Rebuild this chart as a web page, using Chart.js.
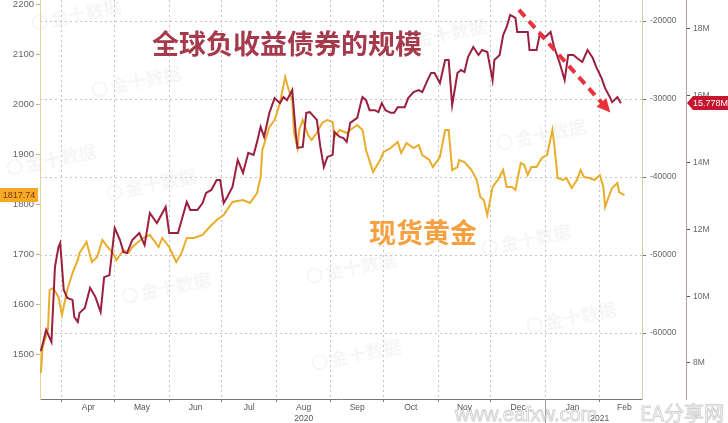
<!DOCTYPE html>
<html>
<head>
<meta charset="utf-8">
<script src="https://cdn.jsdelivr.net/npm/chart.js@4/dist/chart.umd.min.js"></script>
<style>
html, body { margin: 0; padding: 0; background: #fff; }
#wrap { width: 728px; height: 423px; position: relative; }
</style>
</head>
<body>
<div id="wrap"><canvas id="chart"></canvas></div>
<script>
// x values are days counted from 1 Mar 2020 (Apr 1 = 31 ... Feb 1 2021 = 337)
var monthStarts = [31, 61, 92, 122, 153, 184, 214, 245, 275, 306, 337, 365]
var monthNames = ['Apr', 'May', 'Jun', 'Jul', 'Aug', 'Sep', 'Oct', 'Nov', 'Dec', 'Jan', 'Feb']

// spot gold (left axis, USD)
var goldDays = [19,20,23,24,26,29,31,34,37,40,41,45,48,51,54,57,60,62,66,69,
  71,77,81,86,88,92,96,99,102,106,111,115,119,123,128,134,138,142,144,145,
  149,152,155,158,160,162,163,165,166,168,171,173,176,179,182,185,186,189,193,195,
  199,202,204,208,212,214,218,222,224,227,231,234,236,240,242,246,249,251,253,256,
  257,260,264,267,269,271,273,276,279,282,284,287,289,292,294,296,298,301,304,307,
  310,311,313,316,318,321,324,326,328,331,334,337,339,340,342,344,347,348,351]
var goldPrice = [1462,1514,1548,1628,1632,1614,1578,1628,1662,1688,1702,1724,1684,1694,1728,1714,1702,1688,1708,1702,
  1714,1732,1738,1714,1732,1714,1684,1702,1732,1732,1738,1754,1768,1778,1804,1808,1802,1822,1854,1908,
  1954,1968,2002,2054,2028,2008,1944,1912,1948,1968,1938,1928,1942,1962,1968,1964,1934,1948,1942,1948,
  1958,1948,1908,1864,1888,1904,1912,1924,1902,1922,1912,1918,1898,1888,1874,1894,1948,1948,1868,1874,
  1888,1884,1868,1848,1814,1808,1778,1834,1848,1868,1834,1834,1828,1882,1878,1858,1874,1874,1892,1898,
  1948,1922,1852,1848,1852,1832,1848,1868,1854,1852,1848,1858,1834,1794,1814,1832,1842,1824,1817.74]

// global negative-yielding debt (right axis, "M")
var bondDays = [19,22,25,27,29,30,32,34,37,38,40,41,44,47,50,53,55,58,61,64,
  66,68,71,75,78,81,85,90,92,97,102,104,108,111,113,116,119,121,123,125,
  128,131,134,137,140,142,144,146,149,152,155,157,159,162,164,165,168,170,172,176,
  178,180,182,185,186,189,191,193,195,199,201,202,204,206,209,211,213,215,218,220,
  222,226,228,231,234,236,239,241,243,246,249,251,253,256,258,260,262,265,268,270,
  273,276,277,280,282,284,286,289,290,294,296,297,301,303,306,309,311,314,317,319,
  322,324,327,330,333,335,338,340,343,344,347,349]
var bondSize = [8.35,8.99,8.63,10.87,11.47,11.59,10.19,9.95,9.89,9.38,9.23,9.50,9.65,10.25,9.98,9.53,10.57,10.63,12.04,11.68,
  11.32,11.29,11.68,11.89,11.53,12.49,12.19,12.67,11.89,11.89,12.82,12.58,12.58,12.79,13.09,13.18,13.48,13.48,12.79,12.97,
  13.27,14.08,13.69,14.29,14.23,14.62,15.07,14.77,15.49,15.93,15.78,15.96,15.87,16.17,14.89,14.44,14.47,15.49,15.51,15.28,
  14.47,13.87,14.17,14.23,14.92,14.77,14.74,14.62,15.19,15.34,15.78,15.96,15.87,15.57,15.57,15.51,15.78,15.57,15.49,15.49,
  15.66,15.66,15.93,16.11,16.17,16.11,16.47,16.68,16.68,16.38,17.07,17.07,15.72,16.68,16.77,16.71,17.16,17.46,17.22,17.37,
  17.31,16.47,17.07,17.22,17.82,18.06,18.42,18.33,17.91,17.91,17.91,17.37,17.37,17.88,17.76,17.91,17.46,17.01,16.47,17.22,
  17.22,17.13,17.01,17.37,17.13,16.86,16.53,16.23,15.93,15.81,15.96,15.778]

var goldTicks = [1500, 1600, 1700, 1800, 1900, 2000, 2100, 2200]
var midTicks = [-60000, -50000, -40000, -30000, -20000]
var bondTicks = [8, 10, 12, 14, 16, 18]

// red dashed arrow (day, bond value)
var arrowFrom = [291, 18.57]
var arrowTo = [343, 15.5]

function zip(xs, ys) {
  var out = []
  for (var i = 0; i < xs.length; i++) out.push({ x: xs[i], y: ys[i] })
  return out
}

// x tick labels: month names in the middle of each month, year under Aug / at Feb 1
var xLabels = {}
function buildXTicks(scale) {
  var ticks = []
  xLabels = {}
  for (var i = 0; i < monthNames.length; i++) {
    ticks.push({ value: monthStarts[i] })
    xLabels[monthStarts[i]] = monthStarts[i] === 337 ? ['', '2021'] : ''
    var mid = (monthStarts[i] + monthStarts[i + 1]) / 2
    ticks.push({ value: mid })
    xLabels[mid] = monthNames[i] === 'Aug' ? ['Aug', '2020'] : monthNames[i]
  }
  ticks.sort(function (a, b) { return a.value - b.value })
  scale.ticks = ticks
}
function isBoundary(ctx) {
  return ctx.tick && monthStarts.indexOf(ctx.tick.value) >= 0
}
function fixed(list) {
  return function (scale) { scale.ticks = list.map(function (v) { return { value: v } }) }
}
function fitWidth(w) {
  return function (scale) { scale.width = w; scale.paddingTop = 0; scale.paddingBottom = 0 }
}
function plain(v) { return String(v) }

var overlay = {
  id: 'overlay',
  beforeDatasetsDraw: function (chart) {
    var ctx = chart.ctx
    // faint "金十数据" watermarks
    var marks = [[75, 15], [135, 82], [150, 185], [165, 288], [50, 160], [350, 268], [355, 355], [440, 35], [540, 135], [525, 240], [570, 318]]
    ctx.save()
    ctx.fillStyle = 'rgba(200,200,200,0.17)'
    ctx.strokeStyle = 'rgba(200,200,200,0.17)'
    ctx.lineWidth = 2
    ctx.font = 'bold 18px "Noto Sans CJK SC"'
    ctx.textBaseline = 'middle'
    marks.forEach(function (m) {
      ctx.save()
      ctx.translate(m[0], m[1])
      ctx.rotate(-0.2)
      ctx.beginPath()
      ctx.arc(-36, 0, 7, 0, Math.PI * 2)
      ctx.stroke()
      ctx.fillText('金十数据', -25, 0)
      ctx.restore()
    })
    ctx.restore()
  },
  afterDraw: function (chart) {
    var ctx = chart.ctx
    var xs = chart.scales.x, yb = chart.scales.yBond, yg = chart.scales.yGold
    var area = chart.chartArea
    ctx.save()

    // year separator under the axis
    var xj = xs.getPixelForValue(306)
    ctx.strokeStyle = '#999'
    ctx.lineWidth = 1
    ctx.beginPath()
    ctx.moveTo(Math.round(xj) + 0.5, area.bottom)
    ctx.lineTo(Math.round(xj) + 0.5, 423)
    ctx.stroke()

    // titles
    ctx.textAlign = 'center'
    ctx.textBaseline = 'middle'
    ctx.font = 'bold 27px "Noto Sans CJK SC"'
    ctx.fillStyle = '#a63a4d'
    ctx.fillText('全球负收益债券的规模', 287, 44)
    ctx.fillStyle = '#f5a142'
    ctx.fillText('现货黄金', 423, 233)

    // red dashed arrow
    var x1 = xs.getPixelForValue(arrowFrom[0]), y1 = yb.getPixelForValue(arrowFrom[1])
    var x2 = xs.getPixelForValue(arrowTo[0]), y2 = yb.getPixelForValue(arrowTo[1])
    var ang = Math.atan2(y2 - y1, x2 - x1)
    var head = 15
    ctx.strokeStyle = '#e8323c'
    ctx.fillStyle = '#e8323c'
    ctx.lineWidth = 4
    ctx.setLineDash([9, 6])
    ctx.beginPath()
    ctx.moveTo(x1, y1)
    ctx.lineTo(x2 - Math.cos(ang) * head * 0.8, y2 - Math.sin(ang) * head * 0.8)
    ctx.stroke()
    ctx.setLineDash([])
    ctx.beginPath()
    ctx.moveTo(x2, y2)
    ctx.lineTo(x2 - head * Math.cos(ang - 0.45), y2 - head * Math.sin(ang - 0.45))
    ctx.lineTo(x2 - head * Math.cos(ang + 0.45), y2 - head * Math.sin(ang + 0.45))
    ctx.closePath()
    ctx.fill()

    // last value labels
    ctx.font = '9px "Liberation Sans"'
    var gy = Math.round(yg.getPixelForValue(goldPrice[goldPrice.length - 1]))
    ctx.fillStyle = '#f6a827'
    ctx.fillRect(0, gy - 7, 38, 14)
    ctx.fillStyle = '#7a3c05'
    ctx.fillText('1817.74', 19, gy + 0.5)

    var by = Math.round(yb.getPixelForValue(bondSize[bondSize.length - 1]))
    var bx = yb.left + 1
    ctx.fillStyle = '#c8152f'
    ctx.beginPath()
    ctx.moveTo(bx, by)
    ctx.lineTo(bx + 6, by - 7)
    ctx.lineTo(728, by - 7)
    ctx.lineTo(728, by + 7)
    ctx.lineTo(bx + 6, by + 7)
    ctx.closePath()
    ctx.fill()
    ctx.fillStyle = '#fff'
    ctx.textAlign = 'left'
    ctx.fillText('15.778M', bx + 6, by + 0.5)

    // site watermark bottom right
    ctx.font = '20px "Liberation Sans"'
    ctx.textAlign = 'left'
    ctx.textBaseline = 'alphabetic'
    ctx.lineWidth = 1
    ctx.strokeStyle = 'rgba(130,130,130,0.35)'
    ctx.fillStyle = 'rgba(255,255,255,0.6)'
    ctx.fillText('www.eafxw.com', 455, 421)
    ctx.strokeText('www.eafxw.com', 455, 421)
    ctx.font = '20px "Noto Sans CJK SC"'
    ctx.fillText('EA分享网', 640, 421)
    ctx.strokeText('EA分享网', 640, 421)
    ctx.restore()
  }
}

Chart.defaults.font.family = '"Liberation Sans", Arial, sans-serif'

var ctx = document.getElementById('chart').getContext('2d')
new Chart(ctx, {
  type: 'line',
  data: {
    datasets: [{
      data: zip(bondDays, bondSize),
      yAxisID: 'yBond',
      borderColor: '#9a1f40',
      borderWidth: 2,
      pointRadius: 0,
      tension: 0
    }, {
      data: zip(goldDays, goldPrice),
      yAxisID: 'yGold',
      borderColor: '#e9ad2b',
      borderWidth: 2,
      pointRadius: 0,
      tension: 0
    }]
  },
  options: {
    responsive: true,
    maintainAspectRatio: false,
    animation: false,
    layout: { padding: 0, autoPadding: false },
    plugins: { legend: false, tooltip: { enabled: false } },
    scales: {
      x: {
        type: 'linear',
        min: 18.5,
        max: 361,
        afterBuildTicks: buildXTicks,
        afterFit: function (scale) { scale.height = 24; scale.paddingLeft = 0; scale.paddingRight = 0 },
        grid: {
          color: function (c) { return isBoundary(c) ? '#c4c4c4' : 'rgba(0,0,0,0)' },
          tickColor: function (c) { return isBoundary(c) ? '#777' : 'rgba(0,0,0,0)' },
          tickLength: 3
        },
        border: { color: '#777', dash: [2, 3] },
        ticks: {
          autoSkip: false,
          maxRotation: 0,
          minRotation: 0,
          padding: 1,
          color: '#555',
          font: { size: 8.5, lineHeight: 1.2 },
          callback: function (v) { return xLabels[v] !== undefined ? xLabels[v] : '' }
        }
      },
      yGold: {
        position: 'left',
        min: 1410,
        max: 2208,
        afterBuildTicks: fixed(goldTicks),
        afterFit: fitWidth(40),
        grid: { drawOnChartArea: false, tickLength: 4, tickColor: '#c9b580' },
        border: { color: '#e2d3a0' },
        ticks: { color: '#666', padding: 2, font: { size: 9.5 }, callback: plain }
      },
      yMid: {
        position: 'right',
        weight: 0,
        min: -68460,
        max: -17300,
        afterBuildTicks: fixed(midTicks),
        afterFit: fitWidth(44),
        grid: {
          color: '#c4c4c4',
          tickColor: '#6e7a3a',
          tickLength: 4
        },
        border: { color: '#cfd2a8', dash: [2, 3] },
        ticks: { color: '#666', padding: 4, font: { size: 8.5 }, callback: plain }
      },
      yBond: {
        position: 'right',
        weight: 1,
        min: 6.922,
        max: 18.868,
        afterBuildTicks: fixed(bondTicks),
        afterFit: fitWidth(42),
        grid: { drawOnChartArea: false, tickLength: 4, tickColor: '#555' },
        border: { color: '#b79fa8' },
        ticks: {
          color: '#666',
          padding: 3,
          font: { size: 8.5 },
          callback: function (v) { return v + 'M' }
        }
      }
    }
  },
  plugins: [overlay]
})
</script>
</body>
</html>
